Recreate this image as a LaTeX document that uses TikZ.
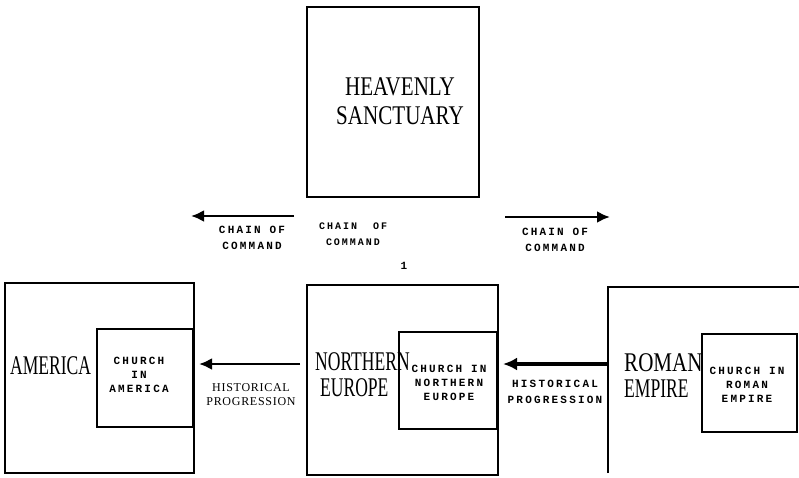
\documentclass[tikz,border=0pt]{standalone}
\usepackage{fontspec}
\setmainfont{Liberation Serif}
\newfontfamily\bigf[FakeStretch=0.78]{Liberation Serif}
\newfontfamily\bign[FakeStretch=0.65]{Liberation Serif}
\newfontfamily\smallf[LetterSpace=20]{Liberation Mono}
\newfontfamily\serifsp[LetterSpace=6]{Liberation Serif}
\usetikzlibrary{arrows.meta}
\begin{document}
\begin{tikzpicture}[x=1pt,y=-1pt,
  box/.style={draw,line width=2.2pt},
  inbox/.style={draw,line width=2pt,fill=white},
  big/.style={font=\bigf\fontsize{27}{29}\selectfont,align=center,inner sep=0pt},
  bign/.style={font=\bign\fontsize{27}{26}\selectfont,align=left,inner sep=0pt,anchor=west},
  small/.style={font=\smallf\bfseries\fontsize{11}{15.5}\selectfont,align=center,inner sep=0pt},
  churchtxt/.style={font=\smallf\bfseries\fontsize{11}{14}\selectfont,align=center,inner sep=0pt},
  arr/.style={line width=2.6pt,-{Latex[length=13pt,width=12pt]}},
  arrt/.style={line width=3.6pt,-{Latex[length=14pt,width=13pt]}}]
\useasboundingbox[fill=white] (0,0) rectangle (799,477);
% heavenly
\draw[box] (307,7) rectangle (479,197);
\node[big] (hs) at (400,101) {HEAVENLY\\SANCTUARY};
% chain of command
\coordinate (cl1) at (294,216);
\coordinate (cl2) at (191,216);
\draw[arr] (cl1) -- (cl2);
\node[small] (ctl) at (252,238) {CHAIN OF\\COMMAND};
\node[small,font=\smallf\bfseries\fontsize{10}{15.5}\selectfont] (ctm) at (353,234) {CHAIN\ \ OF\\COMMAND};
\node[small,font=\smallf\bfseries\fontsize{11}{11}\selectfont] (one) at (404,266) {1};
\coordinate (cr1) at (505,217);
\coordinate (cr2) at (610,217);
\draw[arr] (cr1) -- (cr2);
\node[small] (ctr) at (555,240) {CHAIN OF\\COMMAND};
% America
\draw[box] (5,283) rectangle (194,473);
\draw[inbox] (97,329) rectangle (193,427);
\node[bign] (am) at (10,366) {AMERICA};
\node[churchtxt] (cam) at (139,375) {CHURCH\\IN\\AMERICA};
% Northern Europe
\draw[box] (307,285) rectangle (498,475);
\draw[inbox] (399,332) rectangle (497,429);
\node[bign] (ne) at (315,375) {NORTHERN\\\hspace*{5pt}EUROPE};
\node[churchtxt] (cne) at (449,383) {CHURCH IN\\NORTHERN\\EUROPE};
% Roman Empire
\draw[box] (608,473) -- (608,287) -- (805,287);
\draw[inbox] (702,334) rectangle (797,432);
\node[big,align=left,anchor=west,font=\bigf\fontsize{27}{26}\selectfont] (re1) at (624,363) {ROMAN};
\node[bign] (re2) at (624,389) {EMPIRE};
\node[churchtxt] (cre) at (747,385) {CHURCH IN\\ROMAN\\EMPIRE};
% historical progression
\coordinate (h1) at (300,364);
\coordinate (h2) at (199,364);
\draw[arr] (h1) -- (h2);
\node[small,font=\serifsp\fontsize{12}{14}\selectfont] (hpl) at (251,395) {HISTORICAL\\PROGRESSION};
\coordinate (h3) at (608,364);
\coordinate (h4) at (503,364);
\draw[arrt] (h3) -- (h4);
\node[small] (hpr) at (555,392) {HISTORICAL\\PROGRESSION};
\end{tikzpicture}
\end{document}
